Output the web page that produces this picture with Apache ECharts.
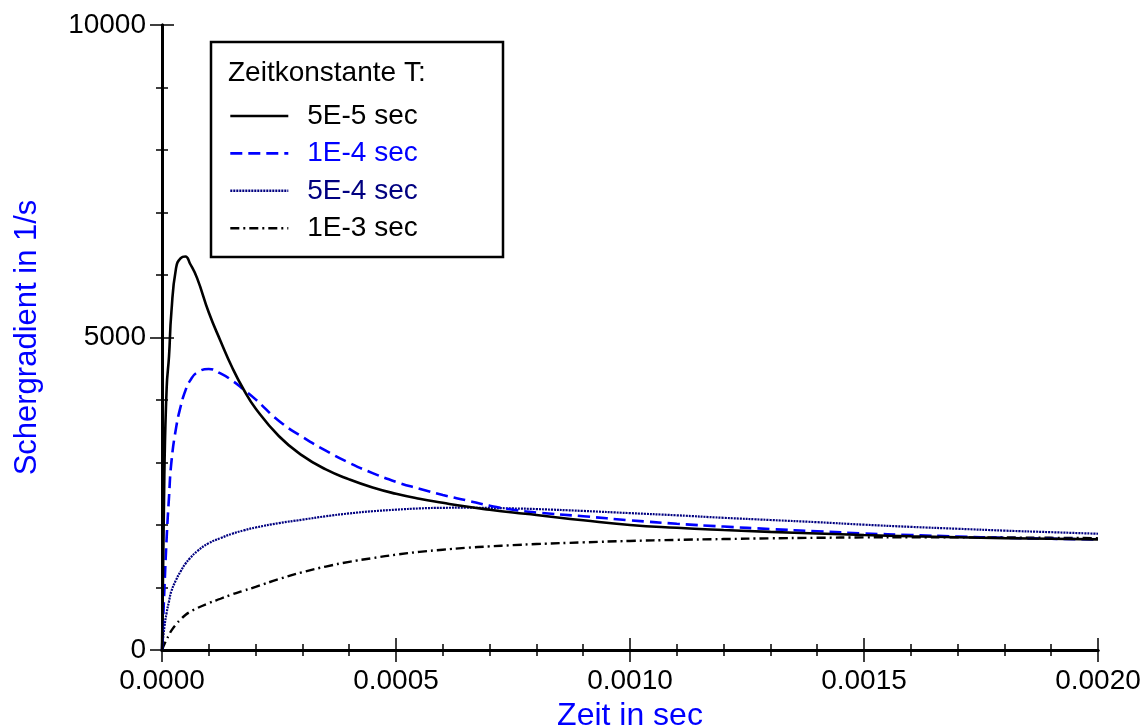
<!DOCTYPE html>
<html>
<head>
    <meta charset="utf-8">
    <title>Schergradient</title>
    <script src="https://cdn.jsdelivr.net/npm/echarts@6/dist/echarts.min.js"></script>
    <style>
        html, body { margin: 0; padding: 0; background: #fff; }
        #chart { width: 1146px; height: 727px; }
    </style>
</head>
<body>
<div id="chart"></div>
<script>
    // Zeitpunkte in sec
    var zeit = [0, 0.000005, 0.00001, 0.000015, 0.00002, 0.00003, 0.00004, 0.00005, 0.00006, 0.000075,
        0.0001, 0.000125, 0.00015, 0.000175, 0.0002, 0.00025, 0.0003, 0.00035, 0.0004, 0.00045, 0.0005, 0.00055,
        0.0006, 0.00065, 0.0007, 0.00075, 0.0008, 0.0009, 0.001, 0.0011, 0.0012, 0.0013,
        0.0014, 0.0015, 0.0016, 0.0017, 0.0018, 0.0019, 0.002];
    // Schergradient je Zeitkonstante
    var t5e5 = [0, 2800, 4200, 4700, 5400, 6110, 6270, 6295, 6180, 5950,
        5400, 4945, 4520, 4160, 3865, 3420, 3110, 2890, 2730, 2600, 2500, 2420,
        2355, 2295, 2245, 2200, 2160, 2075, 2000, 1955, 1920, 1890,
        1865, 1840, 1820, 1805, 1790, 1780, 1770];
    var t1e4 = [0, 950, 1800, 2450, 3000, 3550, 3900, 4150, 4310, 4440,
        4495, 4425, 4310, 4165, 4010, 3665, 3410, 3190, 2995, 2830, 2690, 2580,
        2480, 2395, 2310, 2245, 2200, 2140, 2075, 2020, 1975, 1935,
        1900, 1865, 1840, 1815, 1795, 1780, 1770];
    var t5e4 = [0, 360, 600, 780, 940, 1120, 1260, 1380, 1470, 1580,
        1710, 1790, 1860, 1915, 1960, 2030, 2085, 2140, 2185, 2220, 2245, 2265,
        2275, 2277, 2272, 2265, 2255, 2225, 2190, 2155, 2115, 2080,
        2045, 2005, 1970, 1940, 1910, 1885, 1860];
    var t1e3 = [0, 90, 170, 240, 310, 410, 490, 560, 610, 670,
        750, 820, 890, 950, 1010, 1135, 1245, 1335, 1410, 1470, 1525, 1570,
        1605, 1635, 1658, 1678, 1695, 1722, 1745, 1762, 1775, 1787,
        1795, 1802, 1805, 1803, 1800, 1795, 1790];
    var namen = ['5E-5 sec', '1E-4 sec', '5E-4 sec', '1E-3 sec'];

    function paare(werte) {
        return zeit.map(function (t, i) { return [t, werte[i]]; });
    }

    var font = 'Liberation Sans, Arial, sans-serif';
    var achse = { lineStyle: { color: '#000', width: 3 } };
    var tick = { show: true, inside: false, length: 12, lineStyle: { color: '#000', width: 1.5 } };
    var minor = { show: true, splitNumber: 5, length: 6, lineStyle: { color: '#000', width: 1.5 } };

    var myChart = echarts.init(document.getElementById('chart'));
    var option = {
        backgroundColor: '#fff',
        animation: false,
        grid: { left: 162, right: 48, top: 25, bottom: 77, outerBoundsMode: 'none' },
        legend: {
            orient: 'vertical',
            left: 229,
            top: 102,
            padding: 0,
            itemWidth: 58,
            itemHeight: 14,
            itemGap: 9.4,
            itemStyle: { opacity: 0 },
            lineStyle: { width: 2.6 },
            textStyle: { fontSize: 28, fontFamily: font, padding: [0, 0, 0, 14] },
            data: [
                { name: namen[0], textStyle: { color: '#000' } },
                { name: namen[1], textStyle: { color: '#0000ff' } },
                { name: namen[2], textStyle: { color: '#000080' } },
                { name: namen[3], textStyle: { color: '#000' } }
            ]
        },
        graphic: [
            {
                type: 'rect',
                shape: { x: 211, y: 42, width: 292, height: 215 },
                style: { fill: 'none', stroke: '#000', lineWidth: 2.5 },
                z: 10
            },
            {
                type: 'text',
                x: 228, y: 73,
                style: { text: 'Zeitkonstante T:', fontSize: 28, fontFamily: font, fill: '#000', verticalAlign: 'middle' },
                z: 10
            }
        ],
        xAxis: [
            {
                type: 'value', position: 'bottom', min: 0, max: 0.002, interval: 0.0005,
                name: 'Zeit in sec', nameLocation: 'middle', nameGap: 49,
                nameTextStyle: { color: '#0000ff', fontSize: 32, fontFamily: font },
                axisLine: achse, axisTick: tick, minorTick: minor, splitLine: { show: false },
                axisLabel: {
                    color: '#000', fontSize: 28, fontFamily: font, margin: 17,
                    formatter: function (v) { return v.toFixed(4); }
                }
            },
            {
                type: 'value', position: 'top', min: 0, max: 0.002, interval: 0.0005,
                axisLine: achse, axisTick: tick, minorTick: minor, splitLine: { show: false },
                axisLabel: { show: false }
            }
        ],
        yAxis: [
            {
                type: 'value', position: 'left', min: 0, max: 10000, interval: 5000,
                name: 'Schergradient in 1/s', nameLocation: 'middle', nameGap: 119,
                nameTextStyle: { color: '#0000ff', fontSize: 31, fontFamily: font },
                axisLine: achse, axisTick: tick, minorTick: minor, splitLine: { show: false },
                axisLabel: {
                    color: '#000', fontSize: 28, fontFamily: font, margin: 16,
                    formatter: function (v) { return String(v); }
                }
            },
            {
                type: 'value', position: 'right', min: 0, max: 10000, interval: 5000,
                axisLine: achse, axisTick: tick, minorTick: minor, splitLine: { show: false },
                axisLabel: { show: false }
            }
        ],
        series: [
            {
                name: namen[3], type: 'line', symbol: 'none', smooth: true,
                color: '#000',
                lineStyle: { color: '#000', width: 2.4, type: [9, 4, 2, 4] },
                data: paare(t1e3)
            },
            {
                name: namen[2], type: 'line', symbol: 'none', smooth: true,
                color: '#000080',
                lineStyle: { color: '#000080', width: 2.2, type: [2, 1] },
                data: paare(t5e4)
            },
            {
                name: namen[1], type: 'line', symbol: 'none', smooth: true,
                color: '#0000ff',
                lineStyle: { color: '#0000ff', width: 2.6, type: [12, 6] },
                data: paare(t1e4)
            },
            {
                name: namen[0], type: 'line', symbol: 'none', smooth: true,
                color: '#000',
                lineStyle: { color: '#000', width: 2.6 },
                data: paare(t5e5)
            }
        ]
    };
    myChart.setOption(option);
</script>
</body>
</html>
